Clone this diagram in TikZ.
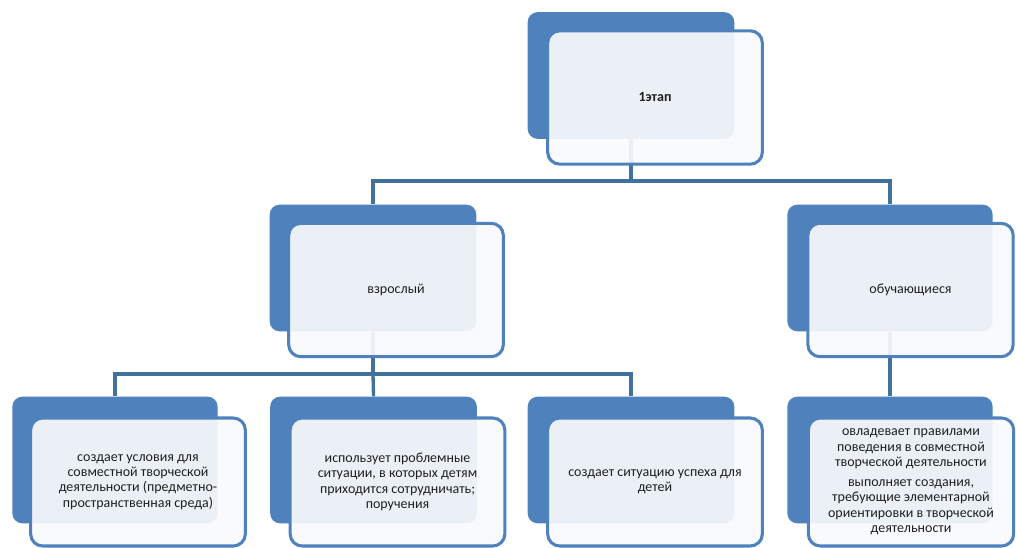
\documentclass[tikz,border=0pt]{standalone}
\usepackage{fontspec}
\setmainfont{Carlito}
\definecolor{dblue}{HTML}{4F81BD}
\definecolor{cline}{HTML}{41719C}
\definecolor{wfill}{HTML}{F9FAFD}
\definecolor{txt}{HTML}{1F1F1F}
\tikzset{
 darkbox/.style={fill=dblue, draw=none, rounded corners=7.5pt, minimum width=155pt, minimum height=95pt, inner sep=0pt},
 litebox/.style={draw=dblue, line width=2.3pt, fill=wfill, fill opacity=0.92, text opacity=1, rounded corners=9pt, minimum width=161pt, minimum height=100pt, align=center, inner sep=2pt, font=\fontsize{10.5}{11.6}\selectfont, text=txt},
 conn/.style={draw=cline, line width=2.5pt}
}
\begin{document}
\begin{tikzpicture}[x=0.75pt,y=-0.75pt]
\useasboundingbox (0,0) rectangle (1016,548);
% dark back boxes
\node[darkbox] (dt) at (631,75.5) {};
\node[darkbox] (da) at (373,268) {};
\node[darkbox, minimum width=154pt] (db) at (890,268) {};
\node[darkbox, minimum width=154pt] (d1) at (115,460) {};
\node[darkbox] (d2) at (373.5,460) {};
\node[darkbox] (d3) at (631,460) {};
\node[darkbox, minimum width=154pt] (d4) at (890,460) {};
% connectors
\coordinate (bus1) at (631,181);
\coordinate (bus2) at (373,374);
\draw[conn] (dt.south) -- (bus1);
\draw[conn] (bus1) -| (da.north);
\draw[conn] (bus1) -| (db.north);
\draw[conn] (da.south) -- (bus2);
\draw[conn] (bus2) -| (d1.north);
\draw[conn] (bus2) -- (d2.north);
\draw[conn] (bus2) -| (d3.north);
\draw[conn] (db.south) -- (d4.north);
% front boxes
\node[litebox, font=\fontsize{10.5}{11.6}\selectfont\bfseries] (wt) at (655,97.5) {1этап};
\node[litebox] (wa) at (396,290) {взрослый};
\node[litebox, minimum width=154pt] (wb) at (910.5,290) {обучающиеся};
\node[litebox, minimum height=96pt] (w1) at (138,482) {создает условия для\\совместной творческой\\деятельности (предметно-\\пространственная среда)};
\node[litebox, minimum height=96pt] (w2) at (397.5,482) {использует проблемные\\ситуации, в которых детям\\приходится сотрудничать;\\поручения};
\node[litebox, minimum height=96pt] (w3) at (655,482) {создает ситуацию успеха для\\детей};
\node[litebox, minimum height=96pt, minimum width=154pt] (w4) at (911,482) {овладевает правилами\\поведения в совместной\\творческой деятельности\\[3pt]выполняет создания,\\требующие элементарной\\ориентировки в творческой\\деятельности};
\end{tikzpicture}
\end{document}
